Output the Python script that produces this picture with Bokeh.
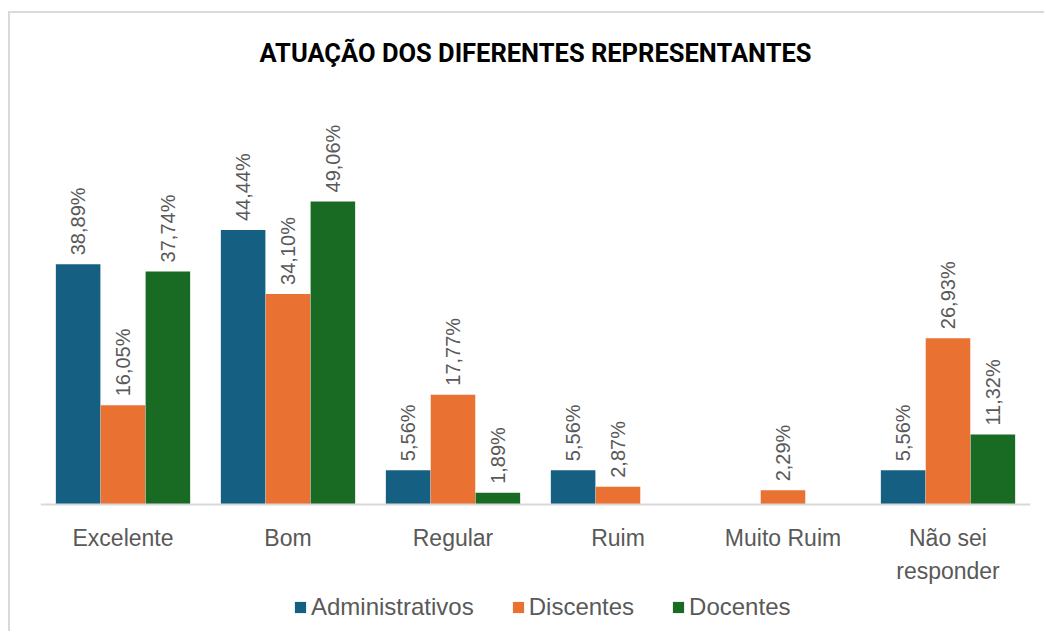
from bokeh.plotting import figure
from bokeh.models import FactorRange, Range1d, ColumnDataSource, Legend, LegendItem, Span
from bokeh.transform import dodge
from bokeh.core.properties import value
from bokeh.embed import file_html
from bokeh.resources import INLINE

categories = ["Excelente", "Bom", "Regular", "Ruim", "Muito Ruim", "Não sei\nresponder"]
series_names = ["Administrativos", "Discentes", "Docentes"]
administrativos = [38.89, 44.44, 5.56, 5.56, 0.0, 5.56]
discentes = [16.05, 34.10, 17.77, 2.87, 2.29, 26.93]
docentes = [37.74, 49.06, 1.89, 0.0, 0.0, 11.32]
colors = ["#156082", "#E97132", "#196B24"]

W, H = 1036, 620
p = figure(x_range=FactorRange(*categories), y_range=Range1d(-20.89, 68.65),
           width=W, height=H, output_backend="svg", toolbar_location=None,
           min_border_left=30, min_border_right=16, min_border_top=67, min_border_bottom=0)
p.styles = {"border-top": "2px solid #d9d9d9", "border-left": "2px solid #d9d9d9",
            "margin-top": "11px", "margin-left": "8px"}
p.outline_line_color = None
p.grid.grid_line_color = None
p.xaxis.visible = False
p.yaxis.visible = False
p.background_fill_color = "white"
p.border_fill_color = "white"

p.title.text = "ATUAÇÃO DOS DIFERENTES REPRESENTANTES"
p.title.align = "center"
p.title.text_font = "Roboto"
p.title.text_font_style = "bold"
p.title.text_font_size = "25.5px"
p.title.text_color = "#000000"
p.title.standoff = 25

# category axis baseline and labels
p.add_layout(Span(location=0, dimension="width", line_color="#d9d9d9", line_width=2))
cat_src = ColumnDataSource(dict(cat=categories, y=[0] * len(categories)))
p.text(x="cat", y="y", text="cat", source=cat_src, text_align="center", text_baseline="top",
       y_offset=21, text_line_height=1.24, text_font=value("Liberation Sans"),
       text_font_size="23px", text_color="#595959")

offsets = [-0.272, 0.0, 0.272]
items = []
for name, vals, col, off in zip(series_names, [administrativos, discentes, docentes], colors, offsets):
    src = ColumnDataSource(dict(cat=categories, v=vals))
    r = p.vbar(x=dodge("cat", off, range=p.x_range), top="v", width=0.27, source=src,
               fill_color=col, line_color=None)
    items.append(LegendItem(label=name, renderers=[r]))
    lc = [c for c, v in zip(categories, vals) if v > 0]
    lv = [v for v in vals if v > 0]
    lt = [f"{v:.2f}%".replace(".", ",") for v in lv]
    lsrc = ColumnDataSource(dict(cat=lc, v=lv, t=lt))
    p.text(x=dodge("cat", off, range=p.x_range), y="v", text="t", source=lsrc,
           angle=1.5708, text_align="left", text_baseline="middle", y_offset=-9,
           text_font=value("Liberation Sans"), text_font_size="20px", text_color="#595959")

legend = Legend(items=items, orientation="horizontal", location=(253, 12),
                label_text_font="Liberation Sans", label_text_font_size="24px",
                label_text_color="#595959", glyph_width=14, glyph_height=14,
                spacing=37, label_standoff=4, border_line_color=None,
                background_fill_alpha=0, padding=4, margin=0)
p.add_layout(legend, "center")

open("out.html", "w").write(file_html(p, INLINE))
